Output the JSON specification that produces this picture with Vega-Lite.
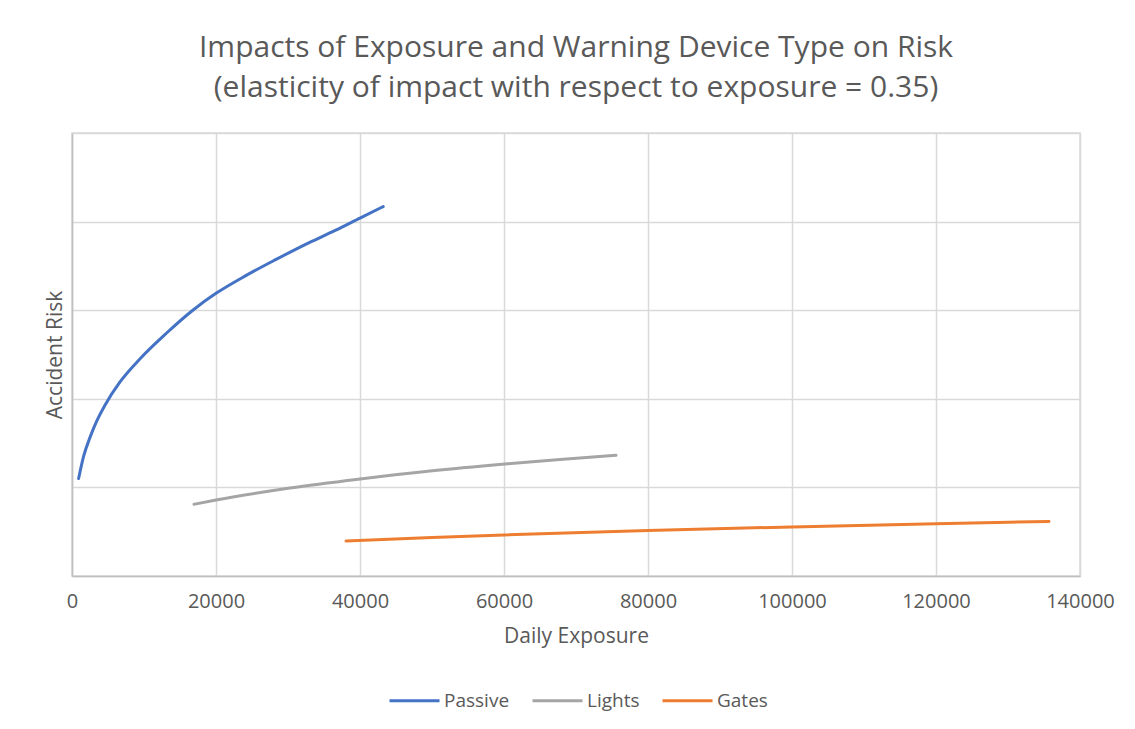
{
  "$schema": "https://vega.github.io/schema/vega-lite/v6.json",
  "autosize": "none",
  "width": 1008,
  "height": 443,
  "padding": {"left": 72, "top": 133, "right": 55, "bottom": 153},
  "background": "white",
  "title": {
    "text": ["Impacts of Exposure and Warning Device Type on Risk", "(elasticity of impact with respect to exposure = 0.35)"],
    "anchor": "middle",
    "font": "Open Sans",
    "fontSize": 30,
    "fontWeight": "normal",
    "color": "#595959",
    "lineHeight": 40,
    "offset": 30
  },
  "data": {
    "values": [
      {"series": "Passive", "exposure": 918, "risk": 1.1},
      {"series": "Passive", "exposure": 1608, "risk": 1.35},
      {"series": "Passive", "exposure": 2528, "risk": 1.57},
      {"series": "Passive", "exposure": 3447, "risk": 1.75},
      {"series": "Passive", "exposure": 4597, "risk": 1.93},
      {"series": "Passive", "exposure": 6666, "risk": 2.19},
      {"series": "Passive", "exposure": 9425, "risk": 2.45},
      {"series": "Passive", "exposure": 13103, "risk": 2.74},
      {"series": "Passive", "exposure": 16781, "risk": 3.0},
      {"series": "Passive", "exposure": 20000, "risk": 3.19},
      {"series": "Passive", "exposure": 24138, "risk": 3.39},
      {"series": "Passive", "exposure": 28276, "risk": 3.57},
      {"series": "Passive", "exposure": 32874, "risk": 3.76},
      {"series": "Passive", "exposure": 36553, "risk": 3.9},
      {"series": "Passive", "exposure": 40000, "risk": 4.04},
      {"series": "Passive", "exposure": 43219, "risk": 4.17},
      {"series": "Lights", "exposure": 16944, "risk": 0.809},
      {"series": "Lights", "exposure": 20000, "risk": 0.858},
      {"series": "Lights", "exposure": 30278, "risk": 0.993},
      {"series": "Lights", "exposure": 40000, "risk": 1.095},
      {"series": "Lights", "exposure": 49722, "risk": 1.185},
      {"series": "Lights", "exposure": 60139, "risk": 1.264},
      {"series": "Lights", "exposure": 67778, "risk": 1.315},
      {"series": "Lights", "exposure": 75556, "risk": 1.362},
      {"series": "Gates", "exposure": 38056, "risk": 0.395},
      {"series": "Gates", "exposure": 50000, "risk": 0.434},
      {"series": "Gates", "exposure": 60000, "risk": 0.463},
      {"series": "Gates", "exposure": 80000, "risk": 0.514},
      {"series": "Gates", "exposure": 100000, "risk": 0.554},
      {"series": "Gates", "exposure": 120000, "risk": 0.59},
      {"series": "Gates", "exposure": 135694, "risk": 0.616}
    ]
  },
  "mark": {"type": "line", "strokeWidth": 3, "interpolate": "monotone", "strokeCap": "round"},
  "encoding": {
    "x": {
      "field": "exposure",
      "type": "quantitative",
      "scale": {"domain": [0, 140000], "nice": false, "zero": true},
      "axis": {
        "title": "Daily Exposure",
        "values": [0, 20000, 40000, 60000, 80000, 100000, 120000, 140000],
        "format": "d",
        "ticks": false,
        "tickSize": 0,
        "labelFlush": false,
        "labelPadding": 15,
        "titlePadding": 14,
        "titleFontSize": 21,
        "domainColor": "#bfbfbf",
        "domainWidth": 1.5
      }
    },
    "y": {
      "field": "risk",
      "type": "quantitative",
      "scale": {"domain": [0, 5], "nice": false},
      "axis": {
        "title": "Accident Risk",
        "values": [0, 1, 2, 3, 4, 5],
        "labels": false,
        "ticks": false,
        "tickSize": 0,
        "titlePadding": 7,
        "titleFontSize": 21,
        "domainColor": "#bfbfbf",
        "domainWidth": 1.5
      }
    },
    "color": {
      "field": "series",
      "type": "nominal",
      "scale": {"domain": ["Passive", "Lights", "Gates"], "range": ["#4472c4", "#a5a5a5", "#ed7d31"]},
      "legend": {
        "title": null,
        "orient": "none",
        "legendX": 316,
        "legendY": 541,
        "direction": "horizontal",
        "symbolType": "stroke",
        "symbolSize": 2500,
        "symbolStrokeWidth": 3,
        "labelOffset": 3,
        "columnPadding": 16
      }
    }
  },
  "config": {
    "font": "Open Sans",
    "view": {"stroke": "#d9d9d9", "strokeWidth": 1.5},
    "axis": {
      "gridColor": "#d9d9d9",
      "gridWidth": 1.5,
      "labelFont": "Open Sans",
      "labelFontSize": 20,
      "labelColor": "#595959",
      "titleFont": "Open Sans",
      "titleFontWeight": "normal",
      "titleColor": "#595959"
    },
    "legend": {
      "labelFont": "Open Sans",
      "labelFontSize": 19,
      "labelColor": "#595959"
    }
  }
}
